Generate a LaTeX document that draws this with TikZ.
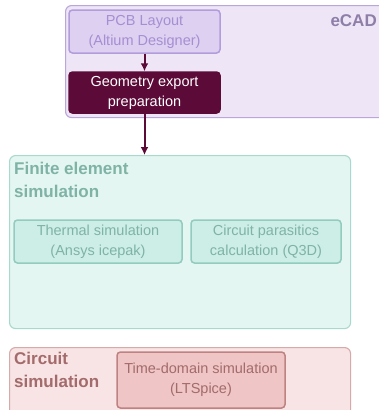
\documentclass[tikz,border=0pt]{standalone}
\usepackage{fontspec}
\setmainfont{Liberation Sans}
\usetikzlibrary{arrows.meta}
\begin{document}
\begin{tikzpicture}[x=1pt,y=-1pt,
  grp/.style={draw, rounded corners=6pt, line width=1.1pt},
  inbox/.style={draw, rounded corners=3.5pt, line width=1.5pt, align=center, inner sep=0pt, font=\fontsize{14.5}{20}\selectfont},
  ttl/.style={anchor=base west, align=left, font=\bfseries\fontsize{17}{22.5}\selectfont, inner sep=0pt},
  conn/.style={draw=darkplum, line width=2pt, -{Latex[length=8pt,width=8pt]}}
]
\definecolor{ecadfill}{HTML}{EEE6F6}
\definecolor{ecadline}{HTML}{BBA6DA}
\definecolor{ecadtxt}{HTML}{8E7FA8}
\definecolor{pcbfill}{HTML}{DDD0F1}
\definecolor{pcbline}{HTML}{B29CDB}
\definecolor{pcbtxt}{HTML}{A68ED3}
\definecolor{darkplum}{HTML}{5C0A38}
\definecolor{fefill}{HTML}{E4F6F2}
\definecolor{feline}{HTML}{A9D8CC}
\definecolor{fetxt}{HTML}{7FB3A5}
\definecolor{feinfill}{HTML}{CCEEE6}
\definecolor{feinline}{HTML}{93CBBE}
\definecolor{csfill}{HTML}{F8E4E4}
\definecolor{csline}{HTML}{D8A9A9}
\definecolor{cstxt}{HTML}{A36B6B}
\definecolor{csinfill}{HTML}{EFC5C5}
\definecolor{csinline}{HTML}{BF8282}
\useasboundingbox (0,0) rectangle (379,410);
\clip (0,0) rectangle (379,410);
% eCAD group
\node[grp, fill=ecadfill, draw=ecadline, minimum width=320pt, minimum height=112pt, anchor=north west] (ecad) at (65,5) {};
\node[anchor=base east, font=\bfseries\fontsize{17}{20}\selectfont, text=ecadtxt, inner sep=0pt] (ecadlbl) at (377,26) {eCAD};
\node[inbox, fill=pcbfill, draw=pcbline, text=pcbtxt, minimum width=151pt, minimum height=43pt] (pcb) at (144.5,31.5) {PCB Layout\\(Altium Designer)};
\node[inbox, fill=darkplum, draw=darkplum, text=white, minimum width=151pt, minimum height=41pt] (geo) at (144.5,92.5) {Geometry export\\preparation};
% FE group
\node[grp, fill=fefill, draw=feline, minimum width=341pt, minimum height=173pt, anchor=north west] (fe) at (9,155) {};
\node[ttl, text=fetxt] (fettl) at (14,197) {Finite element\\simulation};
\node[inbox, fill=feinfill, draw=feinline, text=fetxt, minimum width=168pt, minimum height=43pt] (therm) at (98,241.5) {Thermal simulation\\(Ansys icepak)};
\node[inbox, fill=feinfill, draw=feinline, text=fetxt, minimum width=150pt, minimum height=43pt] (para) at (266,241.5) {Circuit parasitics\\calculation (Q3D)};
% Circuit simulation group
\node[grp, fill=csfill, draw=csline, minimum width=341pt, minimum height=70pt, anchor=north west] (cs) at (9,347) {};
\node[ttl, text=cstxt] (csttl) at (14,387) {Circuit\\simulation};
\node[inbox, fill=csinfill, draw=csinline, text=cstxt, minimum width=168pt, minimum height=56pt] (tds) at (201,380) {Time-domain simulation\\(LTSpice)};
% connectors
\draw[conn] (pcb.south) -- (geo.north);
\draw[conn] (geo.south) -- (geo.south |- fe.north);
\end{tikzpicture}
\end{document}
